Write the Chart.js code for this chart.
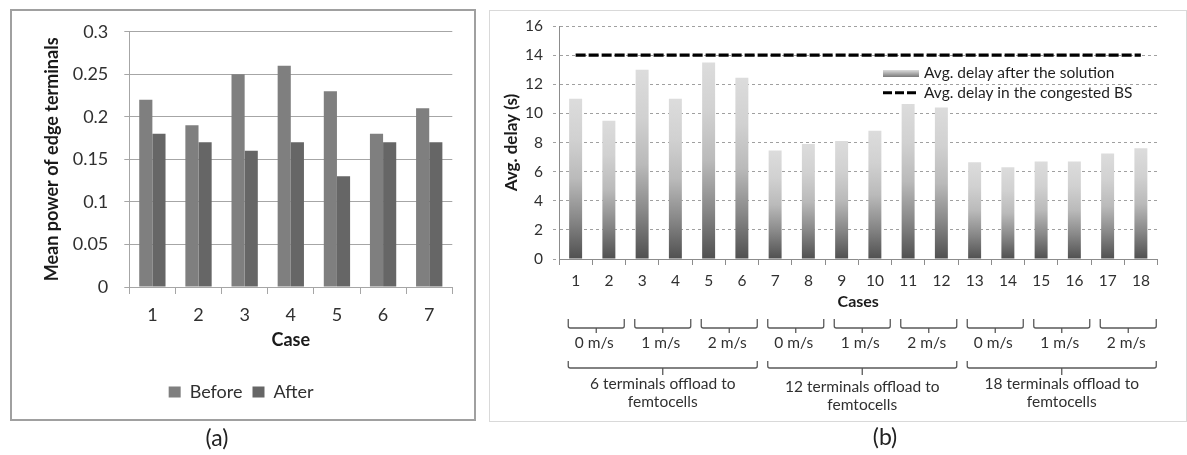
<!DOCTYPE html>
<html><head><meta charset="utf-8">
<script src="https://cdn.jsdelivr.net/npm/chart.js@4.4.1/dist/chart.umd.min.js"></script>
<style>
html,body{margin:0;padding:0;background:#fff;width:1187px;height:455px;overflow:hidden}
#wa{position:absolute;left:0;top:0;width:487px;height:455px}
#wb{position:absolute;left:487px;top:0;width:700px;height:455px}
</style></head><body>
<div id="wa"><canvas id="ca"></canvas></div>
<div id="wb"><canvas id="cb"></canvas></div>
<script>
// ---- data (a) ----
const casesA = ['1','2','3','4','5','6','7'];
const powerBefore = [0.22, 0.19, 0.25, 0.26, 0.23, 0.18, 0.21];
const powerAfter  = [0.18, 0.17, 0.16, 0.17, 0.13, 0.17, 0.17];
const yTicksA = ['0','0.05','0.1','0.15','0.2','0.25','0.3'];
// ---- data (b) ----
const casesB = ['1','2','3','4','5','6','7','8','9','10','11','12','13','14','15','16','17','18'];
const delayAfter = [11, 9.5, 13, 11, 13.5, 12.45, 7.45, 7.9, 8.1, 8.8, 10.65, 10.4, 6.65, 6.3, 6.7, 6.7, 7.25, 7.6];
const delayCongested = [14,14,14,14,14,14,14,14,14,14,14,14,14,14,14,14,14,14];
const yTicksB = ['0','2','4','6','8','10','12','14','16'];
const speedLabels = ['0 m/s','1 m/s','2 m/s','0 m/s','1 m/s','2 m/s','0 m/s','1 m/s','2 m/s'];
const groupLabels = [['6 terminals offload to','femtocells'],['12 terminals offload to','femtocells'],['18 terminals offload to','femtocells']];

const FONT = 'Lato, "Open Sans", sans-serif';
const TXT = '#303030';

// ---------- Chart (a) ----------
const frameA = {
  id:'frameA',
  beforeDraw(chart){ const c=chart.ctx; c.save(); c.fillStyle='#fff'; c.fillRect(0,0,chart.width,chart.height); c.restore(); },
  afterDraw(chart){
    const c=chart.ctx; c.save();
    c.strokeStyle='#a0a0a0'; c.lineWidth=2; c.strokeRect(11,10,464,410);
    c.fillStyle='#222'; c.font='23px '+FONT; c.textAlign='center'; c.textBaseline='middle';
    c.fillText('(a)',217,439);
    c.restore();
  }
};
new Chart(document.getElementById('ca'), {
  type:'bar',
  data:{labels:casesA, datasets:[
    {label:'Before', data:powerBefore, backgroundColor:'#7f7f7f', borderWidth:0, categoryPercentage:0.57, barPercentage:1},
    {label:'After', data:powerAfter, backgroundColor:'#666666', borderWidth:0, categoryPercentage:0.57, barPercentage:1}
  ]},
  options:{
    responsive:true, maintainAspectRatio:false, animation:false,
    layout:{padding:{left:30, top:31.7, right:487-452.3, bottom:44}},
    plugins:{
      legend:{position:'bottom', labels:{boxWidth:12, boxHeight:11, font:{family:FONT,size:18}, color:TXT, padding:10}},
      tooltip:{enabled:false}
    },
    scales:{
      x:{offset:true,
         grid:{offset:true, drawOnChartArea:false, tickLength:7, color:'#a6a6a6'},
         border:{color:'#a6a6a6'},
         ticks:{font:{family:FONT,size:18}, color:TXT, padding:10, maxRotation:0},
         title:{display:true, text:'Case', font:{family:FONT,size:18,weight:'bold'}, color:'#1a1a1a', padding:{top:0,bottom:22.2}},
         afterFit:s=>{s.height=86;}},
      y:{min:0, max:0.3,
         ticks:{stepSize:0.05, font:{family:FONT,size:18}, color:TXT, padding:16, callback:(v,i)=>yTicksA[i]},
         grid:{color:'#a6a6a6', tickLength:5},
         border:{color:'#a6a6a6'},
         title:{display:true, text:'Mean power of edge terminals', font:{family:FONT,size:18,weight:'bold'}, color:'#1a1a1a', padding:{top:11.2,bottom:0}},
         afterFit:s=>{s.width=99.3;}}
    }
  },
  plugins:[frameA]
});

// ---------- Chart (b) ----------
function barGradient(ctx){
  const chart=ctx.chart; const y=chart.scales.y;
  if(ctx.type!=='data' || !y || !ctx.parsed) return '#aaaaaa';
  const top=y.getPixelForValue(ctx.parsed.y), base=y.getPixelForValue(0);
  if(!isFinite(top)||!isFinite(base)||top===base) return '#aaaaaa';
  const g=chart.ctx.createLinearGradient(0,base,0,top);
  g.addColorStop(0,'#505050'); g.addColorStop(0.25,'#888888'); g.addColorStop(0.5,'#bababa');
  g.addColorStop(0.75,'#d1d1d1'); g.addColorStop(1,'#dcdcdc');
  return g;
}
function brace(c, l, r, yTop, yLine, yTip){
  const cx=(l+r)/2;
  c.beginPath();
  c.moveTo(l,yTop); c.lineTo(l,yLine-2); c.quadraticCurveTo(l,yLine,l+2,yLine);
  c.lineTo(r-2,yLine); c.quadraticCurveTo(r,yLine,r,yLine-2); c.lineTo(r,yTop);
  c.moveTo(cx,yLine); c.lineTo(cx,yTip);
  c.stroke();
}
const extrasB = {
  id:'extrasB',
  beforeDraw(chart){ const c=chart.ctx; c.save(); c.fillStyle='#fff'; c.fillRect(0,0,chart.width,chart.height); c.restore(); },
  afterDraw(chart){
    const c=chart.ctx, x=chart.scales.x;
    c.save();
    // frame
    c.strokeStyle='#d9d9d9'; c.lineWidth=1; c.strokeRect(2.5,10.5,697,411);
    // legend
    const lx=396, lw=36;
    const g=c.createLinearGradient(0,70,0,77); g.addColorStop(0,'#dcdcdc'); g.addColorStop(1,'#7a7a7a');
    c.fillStyle=g; c.fillRect(lx,70,lw,7);
    c.strokeStyle='#000'; c.lineWidth=3; c.setLineDash([9,3]);
    c.beginPath(); c.moveTo(lx,92.7); c.lineTo(lx+lw,92.7); c.stroke(); c.setLineDash([]);
    c.fillStyle='#1f1f1f'; c.font='15.5px '+FONT; c.textAlign='left'; c.textBaseline='middle';
    c.fillText(chart.data.datasets[1].label, lx+lw+5, 72.7);
    c.fillText(chart.data.datasets[0].label, lx+lw+5, 92.7);
    // braces
    c.strokeStyle='#595959'; c.lineWidth=1.3;
    c.fillStyle=TXT; c.font='15.5px '+FONT; c.textAlign='center';
    const small=[];
    for(let k=0;k<9;k++){
      const cx=(x.getPixelForValue(2*k)+x.getPixelForValue(2*k+1))/2+4;
      small.push([cx-28,cx+28]);
      brace(c,cx-28,cx+28,319,328,333);
      c.fillText(speedLabels[k],cx-2,343);
    }
    for(let gi=0;gi<3;gi++){
      const l=small[3*gi][0], r=small[3*gi+2][1], cx=(l+r)/2;
      brace(c,l,r,361,368,375);
      const dy = gi===1?3:0;
      c.fillText(groupLabels[gi][0],cx,384+dy);
      c.fillText(groupLabels[gi][1],cx,402+dy);
    }
    c.fillStyle='#222'; c.font='23px '+FONT;
    c.fillText('(b)',398,438);
    c.restore();
  }
};
new Chart(document.getElementById('cb'), {
  type:'bar',
  data:{labels:casesB, datasets:[
    {type:'line', label:'Avg. delay in the congested BS', data:delayCongested, borderColor:'#000', borderWidth:3.2, borderDash:[10,3], pointRadius:0, fill:false, order:0},
    {type:'bar', label:'Avg. delay after the solution', data:delayAfter, backgroundColor:barGradient, borderWidth:0, categoryPercentage:0.39, barPercentage:1, order:1}
  ]},
  options:{
    responsive:true, maintainAspectRatio:false, animation:false,
    layout:{padding:{left:8, top:26, right:29.5, bottom:141}},
    plugins:{legend:{display:false}, tooltip:{enabled:false}},
    scales:{
      x:{offset:true,
         grid:{offset:true, drawOnChartArea:false, tickLength:6, color:'#8c8c8c'},
         border:{color:'#8c8c8c'},
         ticks:{font:{family:FONT,size:15.5}, color:TXT, padding:7, maxRotation:0, autoSkip:false},
         title:{display:true, text:'Cases', font:{family:FONT,size:16,weight:'bold'}, color:'#1a1a1a', padding:{top:0,bottom:2.5}},
         afterFit:s=>{s.height=55;}},
      y:{min:0, max:16,
         ticks:{stepSize:2, font:{family:FONT,size:15.5}, color:TXT, padding:10, callback:(v,i)=>yTicksB[i]},
         grid:{color:'#a0a0a0', tickLength:6, tickBorderDash:[3,3]},
         border:{color:'#8c8c8c', dash:[3,3]},
         title:{display:true, text:'Avg. delay (s)', font:{family:FONT,size:17,weight:'bold'}, color:'#1a1a1a', padding:{top:6.8,bottom:0}},
         afterFit:s=>{s.width=64;}}
    }
  },
  plugins:[extrasB]
});
</script>
</body></html>
